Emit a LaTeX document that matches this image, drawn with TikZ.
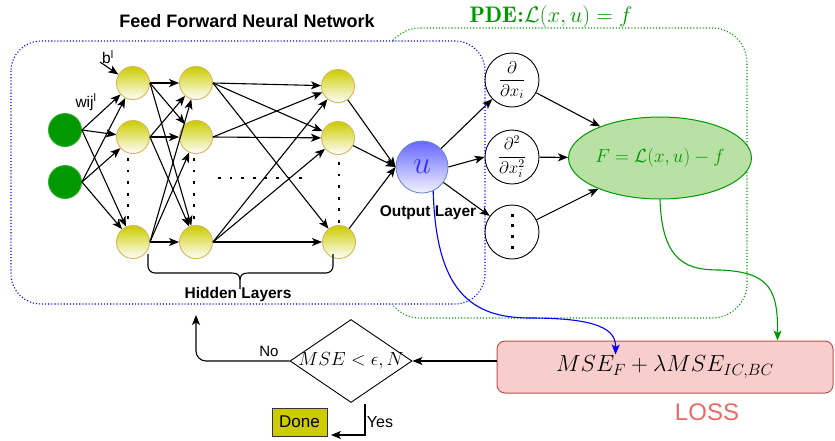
\RequirePackage{fix-cm}
\documentclass[tikz,border=0pt]{standalone}
\usepackage{amsmath}
\usepackage{fontspec}
\newfontfamily\arialf{Liberation Sans}
\usetikzlibrary{shapes.geometric,arrows.meta,calc}

\definecolor{yelTop}{HTML}{CCCC00}
\definecolor{yelEdge}{HTML}{D6B656}
\definecolor{inGreen}{HTML}{009900}
\definecolor{uBlue}{HTML}{6666FF}
\definecolor{uEdge}{HTML}{6C8EBF}
\definecolor{uText}{HTML}{3333FF}
\definecolor{pdeGreen}{HTML}{009900}
\definecolor{ellFill}{HTML}{B9E0A5}
\definecolor{lossFill}{HTML}{F8CECC}
\definecolor{lossEdge}{HTML}{B85450}
\definecolor{lossText}{HTML}{EA6B66}
\definecolor{doneFill}{HTML}{CCCC00}

\begin{document}
\begin{tikzpicture}[x=1pt,y=-1pt,
  arr/.style={-{Stealth[length=10pt,width=8pt,inset=2.5pt]}, line width=1.1pt},
  hid/.style={circle, minimum size=33pt, inner sep=0pt, draw=yelEdge, line width=0.9pt,
              top color=yelTop, bottom color=white},
  inp/.style={circle, minimum size=33pt, inner sep=0pt, draw=inGreen!80!white, line width=0.9pt, fill=inGreen},
  deriv/.style={circle, minimum size=54pt, inner sep=0pt, draw=black, line width=0.9pt, fill=white},
  bigdots/.style={line width=2.8pt, dash pattern=on 2.8pt off 8.8pt},
  bluedots/.style={draw=blue, line width=1.1pt, dash pattern=on 1.1pt off 2pt, rounded corners=30pt},
  greendots/.style={draw=pdeGreen, line width=1.1pt, dash pattern=on 1.1pt off 2pt, rounded corners=35pt},
  lbl/.style={font=\arialf\bfseries\fontsize{15.5}{17}\selectfont, inner sep=0pt},
  plain/.style={font=\arialf\fontsize{15.5}{17}\selectfont, inner sep=0pt}
]
\useasboundingbox (0,0) rectangle (835,440);

% ---- frames: PDE region behind, network region on top
\draw[greendots] (385,28) rectangle (747,318);
\draw[bluedots, fill=white] (11,41) rectangle (485,304);

% ---- titles
\node[font=\arialf\bfseries\fontsize{18}{20}\selectfont] (title) at (247,21) {Feed Forward Neural Network};
\node[text=pdeGreen, font=\fontsize{22.5}{24}\selectfont, inner sep=0pt] (pde) at (551,16.5) {$\mathbf{PDE}$\textbf{:}$\mathcal{L}(x,u)=f$};

% ---- input layer
\node[inp] (i1) at (65,130) {};
\node[inp] (i2) at (65,182) {};

% ---- hidden layers
\node[hid] (a1) at (133,83) {};
\node[hid] (a2) at (133,137) {};
\node[hid] (a3) at (133,242) {};
\node[hid] (b1) at (196,83) {};
\node[hid] (b2) at (196,137) {};
\node[hid] (b3) at (196,242) {};
\node[hid] (c1) at (338,86) {};
\node[hid] (c2) at (338,138) {};
\node[hid] (c3) at (339,242) {};

% elided neurons and layers
\draw[bigdots] (128,158) -- (128,226);
\draw[bigdots] (194,158) -- (194,226);
\draw[bigdots] (339,162) -- (339,226);
\draw[bigdots] (218,178) -- (310,178);

% ---- output neuron
\node[circle, minimum size=52pt, inner sep=0pt, draw=uEdge, line width=0.9pt,
      top color=uBlue, bottom color=uBlue!8!white, text=uText,
      font=\fontsize{32}{34}\selectfont] (u) at (422,167) {$u$};
\node[lbl] (outlbl) at (428,213) {Output Layer};

% ---- weights between layers
\foreach \s in {i1,i2}
  \foreach \t in {a1,a2,a3}
    \draw[arr] (\s.east) -- (\t);
\foreach \s in {a1,a2,a3}
  \foreach \t in {b1,b2,b3}
    \draw[arr] (\s.east) -- (\t);
\foreach \s/\t in {b1/c1,b1/c2,b1/c3,b2/c1,b2/c2,b3/c1,b3/c2,b3/c3}
  \draw[arr] (\s.east) -- (\t);
\foreach \s in {c1,c2,c3}
  \draw[arr] (\s) -- (u.west);

% bias and weight labels
\coordinate (bstart) at (100,62);
\draw[arr] (bstart) -- (a1.150);
\node[plain] (blbl) at (108,57) {b\textsuperscript{l}};
\node[plain] (wlbl) at (86,102) {wij\textsuperscript{l}};

% ---- brace under hidden layers
\draw[line width=1.1pt]
  (148,254) -- (148,266) arc[start angle=180, end angle=270, radius=7pt]
  -- (232,273) .. controls (237,273) and (240,275) .. (240,280) -- (240,289);
\draw[line width=1.1pt]
  (333,254) -- (333,266) arc[start angle=0, end angle=-90, radius=7pt]
  -- (248,273) .. controls (243,273) and (240,275) .. (240,280);
\node[lbl] (hidlbl) at (238,294) {Hidden Layers};

% ---- derivative operators
\node[deriv, font=\fontsize{17}{19}\selectfont] (d1) at (512,80) {$\dfrac{\partial}{\partial x_i}$};
\node[deriv, font=\fontsize{17}{19}\selectfont] (d2) at (512,157) {$\dfrac{\partial^2}{\partial x_i^2}$};
\node[deriv] (d3) at (512,232) {};
\draw[line width=3pt, dash pattern=on 3pt off 7.6pt] ([yshift=-16.5]d3.center) -- ([yshift=20]d3.center);

\draw[arr] (u) -- (d1);
\draw[arr] (u.east) -- (d2.west);
\draw[arr] (u) -- (d3);

% ---- residual
\node[ellipse, draw=pdeGreen, fill=ellFill, minimum width=141pt, minimum height=82pt,
      inner sep=0pt, line width=1pt, text=pdeGreen, font=\fontsize{19}{21}\selectfont]
      (F) at (660,158) {$F=\mathcal{L}(x,u)-f$};
\draw[arr] (d1) -- (F);
\draw[arr] (d2) -- (F);
\draw[arr] (d3) -- (F);

% ---- loss
\node[draw=lossEdge, fill=lossFill, rounded corners=8pt, minimum width=336pt,
      minimum height=52pt, line width=1pt, font=\fontsize{23.3}{25}\selectfont]
      (loss) at (665,367) {$MSE_F+\lambda MSE_{IC,BC}$};
\node[text=lossText, font=\arialf\fontsize{24}{26}\selectfont] (losslbl) at (707,412) {LOSS};

\coordinate (lossInU) at ($(loss.north west)+(119,14)$);
\coordinate (lossInF) at ($(loss.north west)+(281,0)$);
\draw[blue, arr] (u.-65) .. controls (436,290) and (470,318) .. (530,318)
  .. controls (600,318) and (616,330) .. (lossInU);
\draw[pdeGreen, arr] (F.south) .. controls (662,265) and (690,270) .. (720,270)
  .. controls (770,272) and (778,290) .. (lossInF);

% ---- stopping test
\node[diamond, draw, minimum width=122pt, minimum height=83pt, inner sep=0pt,
      line width=0.9pt] (dec) at (351,361) {};
\node[font=\fontsize{19}{21}\selectfont] (dectxt) at (dec.center) {$MSE<\epsilon,N$};
\draw[arr] (dec.east -| loss.west) -- (dec.east);

\coordinate (back) at (196,315);
\draw[arr, rounded corners=10pt] (dec.west) -| (back);
\node[plain, font=\arialf\fontsize{15}{17}\selectfont] (nolbl) at (269,351) {No};

\node[draw=black!80, fill=doneFill, minimum width=55pt, minimum height=28pt, inner sep=0pt,
      line width=0.9pt, font=\arialf\fontsize{17}{19}\selectfont] (done) at (299.5,422) {Done};
\coordinate (yesEnd) at (331,435);
\draw[arr] ($(dec.south)+(14,1)$) |- (yesEnd);
\node[plain, font=\arialf\fontsize{16}{18}\selectfont] (yeslbl) at (380,422) {Yes};

\end{tikzpicture}
\end{document}
